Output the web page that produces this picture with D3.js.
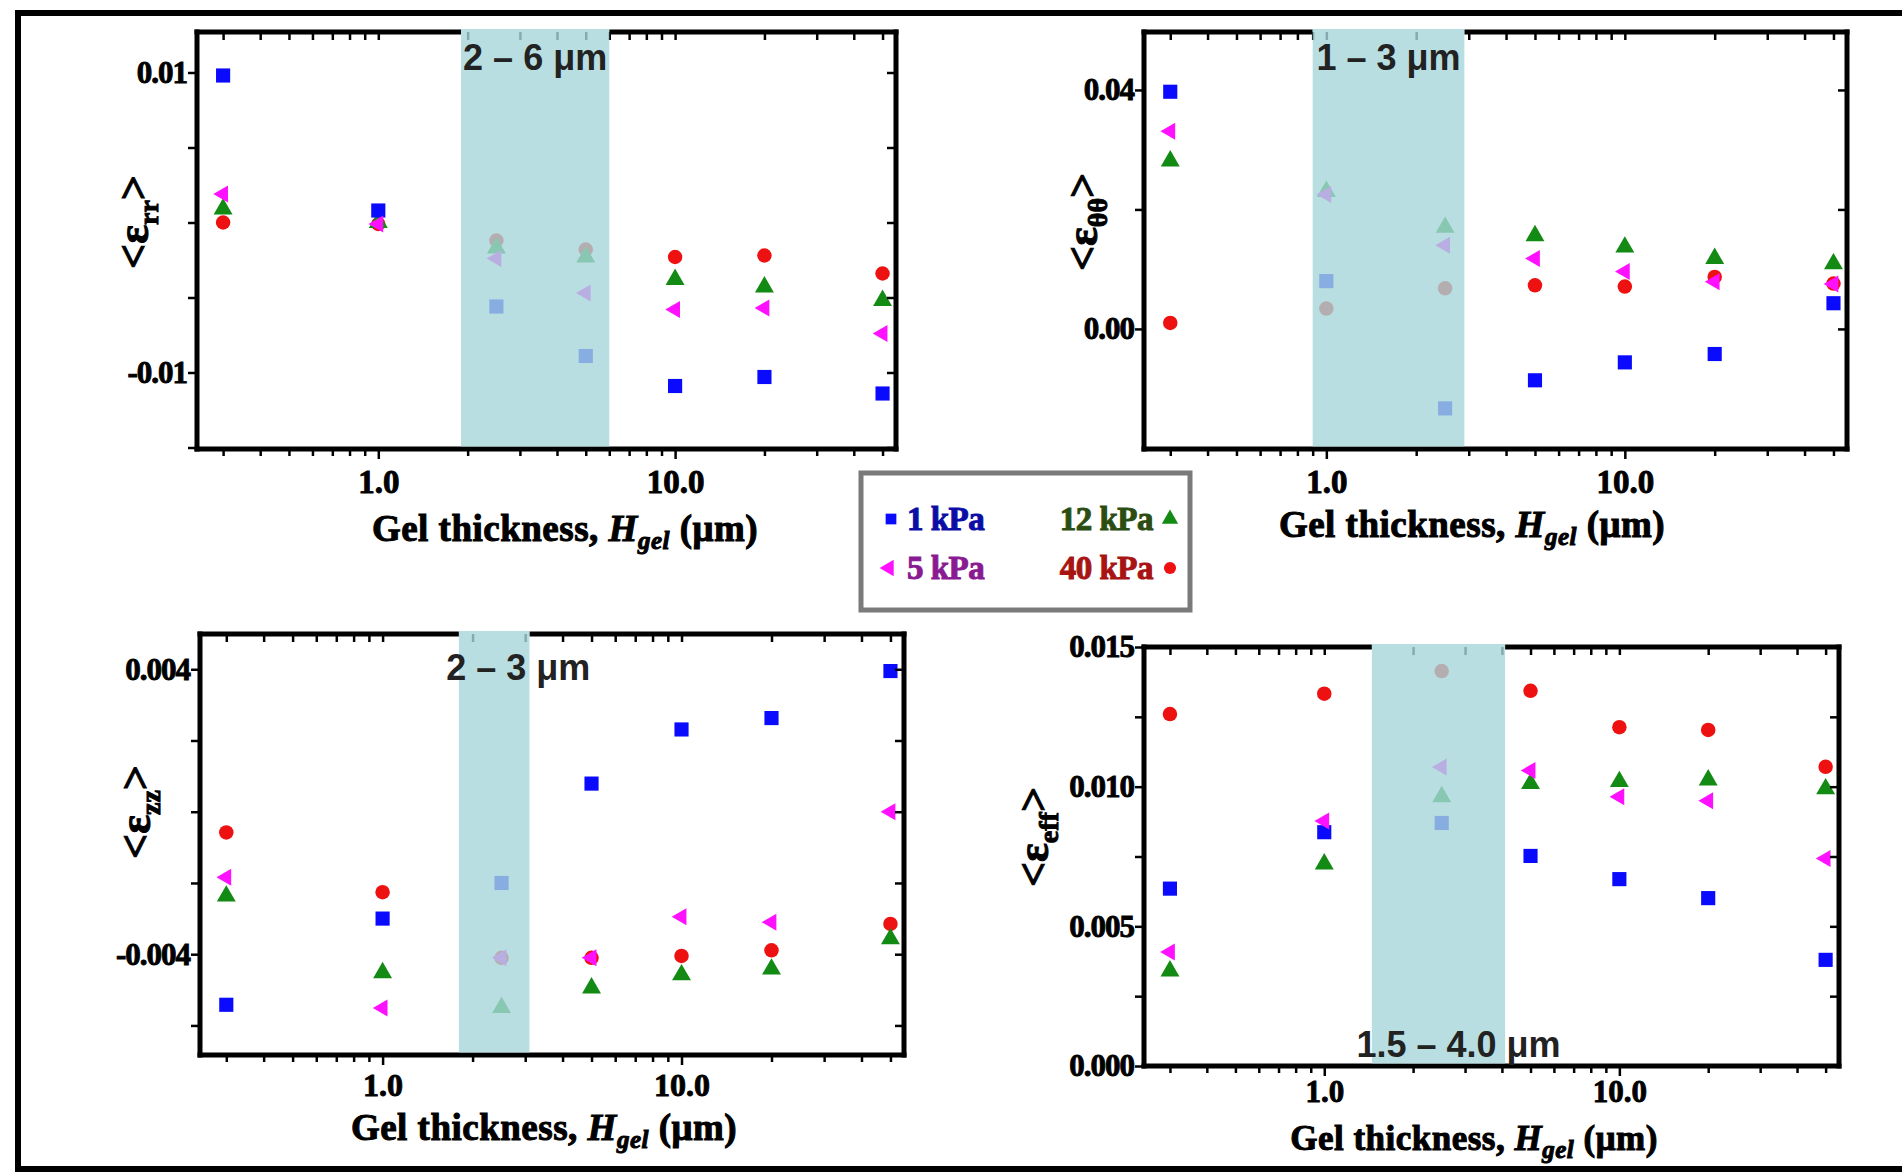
<!DOCTYPE html>
<meta charset="utf-8">
<style>
  body { margin: 0; background: #fff; }
  svg { display: block; }
  .tick text { font-family: "Liberation Serif", serif; font-weight: bold; fill: #000; stroke: #000; stroke-width: 0.9px; }
  .tick line { stroke: #000; stroke-width: 2.5; }
  .title { font-family: "Liberation Serif", serif; font-weight: bold; stroke-width: 1px; }
  .band-label { font-family: "Liberation Sans", Arial, sans-serif; font-weight: bold; fill: #222; }
</style>
<body>
<svg width="1902" height="1174"></svg>
<script src="https://cdn.jsdelivr.net/npm/d3@7"></script>
<script>
// gel thickness (um) for every series
var thickness = [0.3, 1, 2.5, 5, 10, 20, 50];
var stiffness = ["1 kPa", "5 kPa", "12 kPa", "40 kPa"];

// <eps_rr>
var rr1 = [0.0098, 0.0008, -0.0056, -0.0089, -0.0109, -0.0103, -0.0114];
var rr5 = [0.0019, -0.0001, -0.0024, -0.0047, -0.0058, -0.0057, -0.0074];
var rr12 = [0.0009, 0.0000, -0.0017, -0.0023, -0.0038, -0.0043, -0.0052];
var rr40 = [0.0000, -0.0001, -0.0012, -0.0018, -0.0023, -0.0022, -0.0034];

// <eps_thth>
var tt1 = [0.0397, 0.0080, -0.0133, -0.0086, -0.0056, -0.0042, 0.0043];
var tt5 = [0.0331, 0.0225, 0.0140, 0.0118, 0.0096, 0.0079, 0.0075];
var tt12 = [0.0281, 0.0230, 0.0170, 0.0156, 0.0137, 0.0118, 0.0109];
var tt40 = [0.0010, 0.0034, 0.0068, 0.0073, 0.0071, 0.0087, 0.0076];

// <eps_zz>
var zz1 = [-0.00542, -0.0030, -0.0020, 0.00079, 0.00231, 0.00263, 0.00395];
var zz5 = [-0.00184, -0.00551, -0.0041, -0.0041, -0.00295, -0.0031, 0.0];
var zz12 = [-0.00237, -0.00452, -0.0055, -0.00495, -0.00458, -0.00442, -0.00357];
var zz40 = [-0.00058, -0.00226, -0.0041, -0.0041, -0.00405, -0.00389, -0.00315];

// <eps_eff>
var ef1 = [0.00635, 0.00837, 0.0087, 0.00752, 0.00669, 0.00601, 0.0038];
var ef5 = [0.00408, 0.00877, 0.0107, 0.01058, 0.00964, 0.0095, 0.00743];
var ef12 = [0.0034, 0.00723, 0.00964, 0.01011, 0.01018, 0.01024, 0.00992];
var ef40 = [0.0126, 0.01333, 0.01414, 0.01343, 0.01213, 0.01203, 0.01071];

var xMinor = [0.3, 0.4, 0.5, 0.6, 0.7, 0.8, 0.9, 1, 2, 3, 4, 5, 6, 7, 8, 9, 10, 20, 30, 40, 50];
var xMajor = [1, 10];

var rrTicks = [-0.015, -0.01, -0.005, 0, 0.005, 0.01], rrLabels = [0.01, -0.01];
var ttTicks = [0, 0.02, 0.04], ttLabels = [0.04, 0];
var zzTicks = [-0.006, -0.004, -0.002, 0, 0.002, 0.004], zzLabels = [0.004, -0.004];
var efTicks = [0, 0.0025, 0.005, 0.0075, 0.01, 0.0125, 0.015], efLabels = [0.015, 0.01, 0.005, 0];

var colors = ["#0a0aff", "#ff10ff", "#138a13", "#ee1111"];
var textColors = ["#0c0ca6", "#8a1a92", "#2c4d12", "#a81414"];

var svg = d3.select("svg");

// outer frame
svg.append("rect").attr("x", 18).attr("y", 13).attr("width", 1900).attr("height", 1156)
  .attr("fill", "none").attr("stroke", "#000").attr("stroke-width", 6);

function symbolFor(i) {
  if (i == 0) return d3.symbol().type(d3.symbolSquare).size(200)();
  if (i == 1) return d3.symbol().type(d3.symbolTriangle).size(125)();
  if (i == 2) return d3.symbol().type(d3.symbolTriangle).size(155)();
  return d3.symbol().type(d3.symbolCircle).size(165)();
}
function rot(i) { return i == 1 ? " rotate(-90)" : ""; }

function drawPanel(p) {
  var x = d3.scaleLog().domain([0.245, 55.5]).range([p.left, p.right]);
  var y = d3.scaleLinear().domain(p.yDomain).range([p.bottom, p.top]);
  var g = svg.append("g");

  // points: red, green, blue, magenta
  var order = [3, 2, 0, 1];
  order.forEach(function(s) {
    g.selectAll(null).data(p.series[s]).enter().append("path")
      .attr("d", symbolFor(s))
      .attr("fill", colors[s])
      .attr("transform", function(d, i) {
        return "translate(" + x(thickness[i]) + "," + y(d) + ")" + rot(s);
      });
  });

  // x axes
  var fmtX = function(d) { return xMajor.indexOf(d) >= 0 ? d.toFixed(1) : ""; };
  var xb = g.append("g").attr("transform", "translate(0," + p.bottom + ")")
    .call(d3.axisBottom(x).tickValues(xMinor).tickFormat(fmtX).tickSizeInner(7).tickSizeOuter(0).tickPadding(p.xPad));
  xb.select(".domain").remove();
  xb.selectAll(".tick line").attr("y2", function(d) { return xMajor.indexOf(d) >= 0 ? 10 : 7; });
  xb.selectAll(".tick text").style("font-size", p.xFont);
  var xt = g.append("g").attr("transform", "translate(0," + p.top + ")")
    .call(d3.axisTop(x).tickValues(xMinor).tickFormat("").tickSizeInner(-8).tickSizeOuter(0));
  xt.select(".domain").remove();

  // y axes
  var fmtY = function(d) {
    return p.labels.some(function(v) { return Math.abs(v - d) < 1e-9; }) ? d3.format(p.fmt)(d).replace("−", "-") : "";
  };
  var yl = g.append("g").attr("transform", "translate(" + p.left + ",0)")
    .call(d3.axisLeft(y).tickValues(p.ticks).tickFormat(fmtY).tickSizeInner(9).tickSizeOuter(0).tickPadding(1));
  yl.select(".domain").remove();
  yl.selectAll(".tick text").style("font-size", "31px").style("letter-spacing", "-1px");
  var yr = g.append("g").attr("transform", "translate(" + p.right + ",0)")
    .call(d3.axisRight(y).tickValues(p.ticks).tickFormat("").tickSizeInner(-9).tickSizeOuter(0));
  yr.select(".domain").remove();

  // frame (top line split round the band)
  var b0 = x(p.band[0]), b1 = x(p.band[1]);
  var fr = g.append("g").attr("stroke", "#000").attr("stroke-width", 5);
  fr.append("line").attr("x1", p.left).attr("x2", p.left).attr("y1", p.top - 2.5).attr("y2", p.bottom + 2.5);
  fr.append("line").attr("x1", p.right).attr("x2", p.right).attr("y1", p.top - 2.5).attr("y2", p.bottom + 2.5);
  fr.append("line").attr("x1", p.left - 2.5).attr("x2", p.right + 2.5).attr("y1", p.bottom).attr("y2", p.bottom);
  fr.append("line").attr("x1", p.left - 2.5).attr("x2", b0).attr("y1", p.top).attr("y2", p.top);
  fr.append("line").attr("x1", b1).attr("x2", p.right + 2.5).attr("y1", p.top).attr("y2", p.top);

  // shaded band over the points
  g.append("rect").attr("x", b0).attr("y", p.top - 3).attr("width", b1 - b0).attr("height", p.bottom - p.top + 0.5)
    .attr("fill", "#a6d6d9").attr("opacity", 0.8);
  g.append("text").attr("class", "band-label")
    .attr("x", (b0 + b1) / 2 + p.bandDx).attr("y", p.bandY)
    .attr("text-anchor", "middle").style("font-size", "36px")
    .text(p.bandText);

  // x title
  var t = g.append("text").attr("class", "title").attr("text-anchor", "middle")
    .attr("fill", "#000").attr("stroke", "#000")
    .attr("x", p.titleX).attr("y", p.bottom + p.titleDy).style("font-size", p.titleFont).style("letter-spacing", "0.5px");
  t.append("tspan").text("Gel thickness, ");
  t.append("tspan").style("font-style", "italic").text("H");
  t.append("tspan").style("font-style", "italic").style("font-size", "25px").attr("dy", 8).text("gel");
  t.append("tspan").attr("dy", -8).text(" (μm)");

  // y title
  var yt = g.append("text").attr("class", "title").attr("text-anchor", "middle")
    .attr("fill", "#000").attr("stroke", "#000")
    .attr("transform", "translate(" + p.ylx + "," + p.yly + ") rotate(-90)").style("font-size", "44px");
  yt.append("tspan").text("<ε");
  yt.append("tspan").style("font-size", "28px").attr("dy", 10).text(p.sub);
  yt.append("tspan").attr("dy", -10).text(">");
}

drawPanel({ left: 197, right: 896, top: 32, bottom: 449, yDomain: [-0.0151, 0.0127],
  ticks: rrTicks, labels: rrLabels, fmt: ".2f",
  series: [rr1, rr5, rr12, rr40], band: [1.9, 6], bandText: "2 – 6 μm", bandY: 70, bandDx: 0,
  sub: "rr", ylx: 148, yly: 222, titleX: 565, titleDy: 92, titleFont: "37px", xPad: 14, xFont: "33px" });

drawPanel({ left: 1144, right: 1847, top: 32, bottom: 449, yDomain: [-0.0201, 0.0497],
  ticks: ttTicks, labels: ttLabels, fmt: ".2f",
  series: [tt1, tt5, tt12, tt40], band: [0.9, 2.9], bandText: "1 – 3 μm", bandY: 70, bandDx: 0,
  sub: "θθ", ylx: 1097, yly: 222, titleX: 1472, titleDy: 88, titleFont: "37px", xPad: 14, xFont: "33px" });

drawPanel({ left: 200, right: 904, top: 634, bottom: 1055, yDomain: [-0.00683, 0.00499],
  ticks: zzTicks, labels: zzLabels, fmt: ".3f",
  series: [zz1, zz5, zz12, zz40], band: [1.8, 3.1], bandText: "2 – 3 μm", bandY: 680, bandDx: 24,
  sub: "zz", ylx: 150, yly: 812, titleX: 544, titleDy: 85, titleFont: "37px", xPad: 11, xFont: "32px" });

drawPanel({ left: 1144, right: 1839, top: 647, bottom: 1066, yDomain: [0, 0.015],
  ticks: efTicks, labels: efLabels, fmt: ".3f",
  series: [ef1, ef5, ef12, ef40], band: [1.45, 4.1], bandText: "1.5 – 4.0 μm", bandY: 1057, bandDx: 20,
  sub: "eff", ylx: 1048, yly: 837, titleX: 1474, titleDy: 84, titleFont: "35px", xPad: 7, xFont: "31px" });

// legend
var lg = svg.append("g");
lg.append("rect").attr("x", 861).attr("y", 473).attr("width", 329).attr("height", 137)
  .attr("fill", "#fff").attr("stroke", "#7a7a7a").attr("stroke-width", 5);
var legendPos = [
  { sx: 891, sy: 519, tx: 907, anchor: "start" },
  { sx: 889, sy: 568, tx: 907, anchor: "start" },
  { sx: 1170, sy: 519, tx: 1153, anchor: "end" },
  { sx: 1170, sy: 568, tx: 1153, anchor: "end" }
];
stiffness.forEach(function(name, i) {
  var lp = legendPos[i];
  lg.append("path").attr("d", d3.symbol().type(i == 3 ? d3.symbolCircle : i == 0 ? d3.symbolSquare : d3.symbolTriangle).size(115)())
    .attr("fill", colors[i]).attr("transform", "translate(" + lp.sx + "," + lp.sy + ")" + rot(i));
  lg.append("text").attr("class", "title").attr("x", lp.tx).attr("y", lp.sy + 11)
    .attr("text-anchor", lp.anchor).attr("fill", textColors[i]).attr("stroke", textColors[i])
    .style("font-size", "33px").style("letter-spacing", "-0.5px").text(name);
});
</script>
</body>
